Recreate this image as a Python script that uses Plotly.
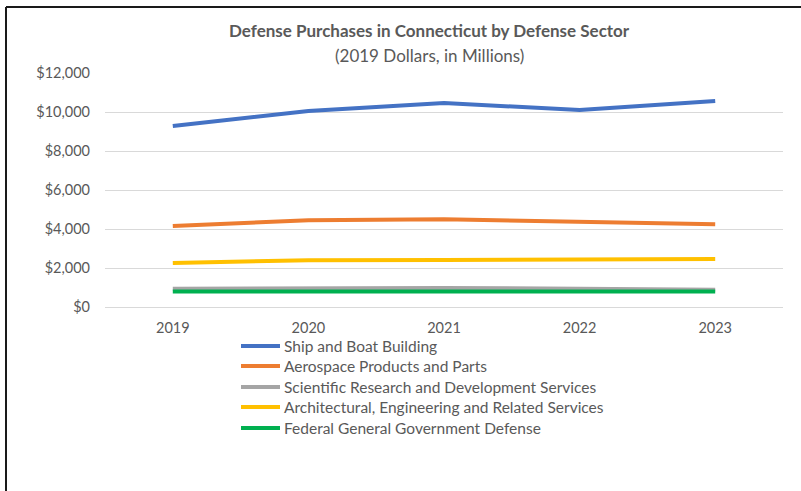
import plotly.graph_objects as go

years = ["2019", "2020", "2021", "2022", "2023"]
ship = [9280, 10050, 10460, 10100, 10560]
aero = [4150, 4450, 4500, 4370, 4250]
sci = [930, 980, 980, 930, 880]
arch = [2260, 2400, 2410, 2450, 2460]
fed = [790, 800, 800, 800, 800]

series = [
    ("Ship and Boat Building", ship, "#4472C4"),
    ("Aerospace Products and Parts", aero, "#ED7D31"),
    ("Scientific Research and Development Services", sci, "#A5A5A5"),
    ("Architectural, Engineering and Related Services", arch, "#FFC000"),
    ("Federal General Government Defense", fed, "#00B050"),
]

FONT = "Lato, Calibri, Arial, sans-serif"
GREY = "#595959"

L, T, W, H = 105, 73, 678, 234


def px(x):
    return (x - L) / W


def py(y):
    return (T + H - y) / H


fig = go.Figure()
for name, vals, color in series:
    fig.add_trace(go.Scatter(x=years, y=vals, name=name, mode="lines",
                             line=dict(color=color, width=4), showlegend=False))

annotations = [
    dict(text="<b>Defense Purchases in Connecticut by Defense Sector</b>",
         xref="paper", yref="paper", x=px(429), y=py(31),
         xanchor="center", yanchor="middle", showarrow=False,
         font=dict(size=17, color=GREY, family=FONT)),
    dict(text="(2019 Dollars, in Millions)",
         xref="paper", yref="paper", x=px(429), y=py(55),
         xanchor="center", yanchor="middle", showarrow=False,
         font=dict(size=17, color=GREY, family=FONT)),
]
shapes = [
    dict(type="line", xref="paper", yref="paper",
         x0=px(6), x1=px(6), y0=py(7), y1=py(495),
         line=dict(color="#1a1a1a", width=2)),
    dict(type="line", xref="paper", yref="paper",
         x0=px(6), x1=px(805), y0=py(7), y1=py(7),
         line=dict(color="#1a1a1a", width=2)),
]

# legend drawn below the plot
row_y = [346, 366, 387, 407, 428]
for (name, vals, color), ry in zip(series, row_y):
    shapes.append(dict(type="line", xref="paper", yref="paper",
                       x0=px(241), x1=px(280), y0=py(ry), y1=py(ry),
                       line=dict(color=color, width=4)))
    annotations.append(dict(text=name, xref="paper", yref="paper",
                            x=px(282), y=py(ry), xanchor="left", yanchor="middle",
                            showarrow=False,
                            font=dict(size=15.5, color=GREY, family=FONT)))

fig.update_layout(
    width=801, height=491,
    margin=dict(l=L, r=801 - L - W, t=T, b=491 - T - H),
    paper_bgcolor="white", plot_bgcolor="white",
    font=dict(family=FONT, color=GREY, size=14),
    showlegend=False,
    xaxis=dict(type="category", range=[-0.5, 4.5], showgrid=False,
               showline=False, ticks="", tickfont=dict(size=14.5, color=GREY),
               ticklabelstandoff=10, fixedrange=True),
    yaxis=dict(range=[0, 12000], dtick=2000, tickprefix="$", tickformat=",",
               showgrid=True, gridcolor="#D9D9D9", gridwidth=1,
               zeroline=True, zerolinecolor="#D9D9D9", zerolinewidth=1,
               showline=False, ticks="", tickfont=dict(size=14.5, color=GREY),
               ticklabelstandoff=14),
    annotations=annotations,
    shapes=shapes,
)

fig.write_html("out.html")
